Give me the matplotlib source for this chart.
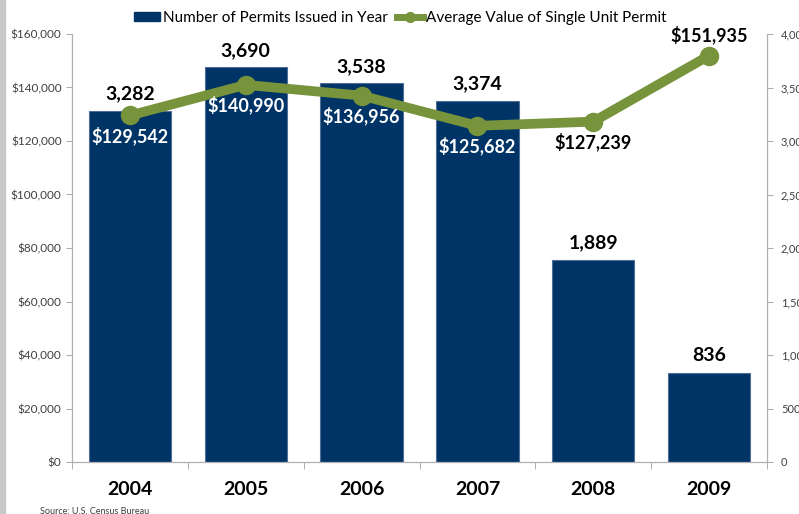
import matplotlib
matplotlib.use("Agg")
import matplotlib.pyplot as plt
from matplotlib.patches import Rectangle

years = ["2004", "2005", "2006", "2007", "2008", "2009"]
permits = [3282, 3690, 3538, 3374, 1889, 836]
avg_value = [129542, 140990, 136956, 125682, 127239, 151935]
# line labels: white (on bar) or black (off bar), below or above the point
label_white = [True, True, True, True, False, False]
label_above = [False, False, False, False, False, True]

navy = "#003366"
green = "#77933C"

plt.rcParams["font.family"] = ["Lato", "DejaVu Sans"]

fig = plt.figure(figsize=(7.99, 5.14), dpi=100)
ax = fig.add_axes([72 / 799, 52 / 514, 695 / 799, 428 / 514])
ax2 = ax.twinx()

x = range(len(years))
ax2.bar(x, permits, width=0.71, color=navy, edgecolor="#4f6f96", linewidth=0.8)
ax2.set_ylim(0, 4000)
ax2.set_yticks(range(0, 4001, 500))
ax2.set_yticklabels([f"{v:,}" for v in range(0, 4001, 500)])

ax.plot(x, avg_value, color=green, lw=7, marker="o", ms=13, solid_capstyle="round")
ax.set_ylim(0, 160000)
ax.set_yticks(range(0, 160001, 20000))
ax.set_yticklabels([f"${v:,}" for v in range(0, 160001, 20000)])
ax.set_xlim(-0.5, len(years) - 0.5)
ax.set_xticks(list(x))
ax.set_xticklabels(years, fontsize=14, fontweight="bold")
ax.set_xticks([i + 0.5 for i in range(-1, len(years))], minor=True)
ax.tick_params(axis="x", which="major", length=0, pad=14)
ax.tick_params(axis="x", which="minor", length=5, color="#a0a0a0", direction="out")

ax.set_zorder(ax2.get_zorder() + 1)
ax.patch.set_visible(False)

for a in (ax, ax2):
    a.spines["top"].set_visible(False)
    for s in ("left", "right", "bottom"):
        a.spines[s].set_color("#b0b0b0")
ax.tick_params(axis="y", labelsize=8.5, colors="#404040", length=4)
ax.tick_params(axis="y", color="#b0b0b0")
ax2.tick_params(axis="y", labelsize=8, colors="#404040", length=4, pad=6)
ax2.tick_params(axis="y", color="#b0b0b0")

for i, v in enumerate(permits):
    ax2.annotate(f"{v:,}", (i, v), xytext=(0, 6), textcoords="offset points",
                 ha="center", va="bottom", fontsize=14, fontweight="bold")

for i, v in enumerate(avg_value):
    if label_above[i]:
        off, va = 8, "bottom"
    else:
        off, va = -8, "top"
    ax.annotate(f"${v:,}", (i, v), xytext=(0, off), textcoords="offset points",
                ha="center", va=va, fontsize=13, fontweight="bold",
                color="white" if label_white[i] else "black")

# legend
h1 = Rectangle((0, 0), 1, 1, color=navy)
h2 = plt.Line2D([], [], color=green, lw=5, marker="o", ms=7)
fig.legend([h1, h2], ["Number of Permits Issued in Year", "Average Value of Single Unit Permit"],
           loc="center", bbox_to_anchor=(400 / 799, 1 - 18 / 514), ncol=2, frameon=False,
           fontsize=11, handlelength=1.7, handletextpad=0.2, columnspacing=0.6,
           handleheight=0.6)

fig.text(40 / 799, -2 / 514, "Source: U.S. Census Bureau", fontsize=6.5, color="#404040",
         va="bottom")
fig.add_artist(Rectangle((0, 0), 5 / 799, 1, transform=fig.transFigure, color="#c8c8c8"))

fig.savefig("out.png", dpi=100)
